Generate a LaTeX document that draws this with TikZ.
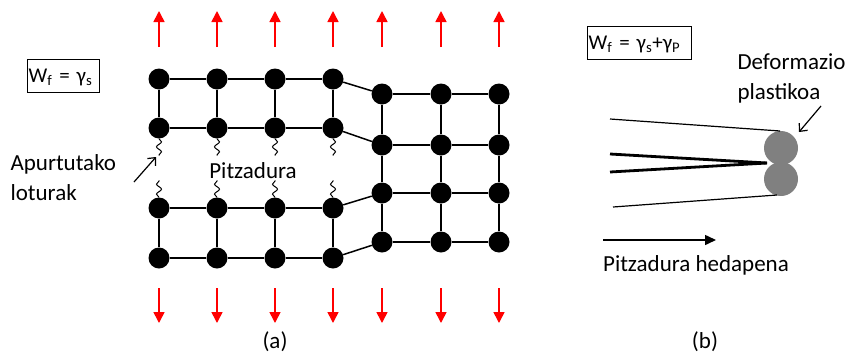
\documentclass[tikz,border=0pt]{standalone}
\usepackage{fontspec}
\setmainfont{Carlito}
\usetikzlibrary{arrows.meta,decorations.pathmorphing}

\begin{document}
\begin{tikzpicture}[x=1pt,y=-1pt,
    font=\fontsize{23}{30}\selectfont,
    atom/.style={circle,fill=black,inner sep=0pt,minimum size=21pt},
    bond/.style={line width=1.5pt},
    pull/.style={red,line width=1.6pt,-{Triangle[length=11pt,width=11pt]}},
    broken/.style={line width=1pt,decorate,decoration={snake,segment length=10pt,amplitude=2.5pt}},
    eqbox/.style={draw,line width=1.2pt,inner sep=1pt,anchor=west,align=left,text depth=0pt,font=\fontsize{21}{24}\selectfont}]
\useasboundingbox (0,0) rectangle (847,354);

% (a)
\foreach \x [count=\i] in {159,217,275,333}{
	\node[atom] (u1-\i) at (\x,79) {};
	\node[atom] (u2-\i) at (\x,128) {};
	\node[atom] (l1-\i) at (\x,208) {};
	\node[atom] (l2-\i) at (\x,258) {};
	\draw[bond] (u1-\i) -- (u2-\i);
	\draw[bond] (l1-\i) -- (l2-\i);
	\draw[broken] (u2-\i.south) -- ++(0,17);
	\draw[broken] (l1-\i.north) -- ++(0,-17);
	\draw[pull] (\x,47) -- (\x,11);
	\draw[pull] (\x,288) -- (\x,323);
}
\foreach \i/\j in {1/2,2/3,3/4}{
	\draw[bond] (u1-\i) -- (u1-\j);
	\draw[bond] (u2-\i) -- (u2-\j);
	\draw[bond] (l1-\i) -- (l1-\j);
	\draw[bond] (l2-\i) -- (l2-\j);
}
\foreach \x [count=\i] in {382,441,499}{
	\foreach \y [count=\j] in {94,145,193,242}
		\node[atom] (r\j-\i) at (\x,\y) {};
	\draw[pull] (\x,47) -- (\x,11);
	\draw[pull] (\x,288) -- (\x,323);
}
\foreach \i in {1,2,3}{
	\draw[bond] (r1-\i) -- (r2-\i) -- (r3-\i) -- (r4-\i);
}
\foreach \j in {1,2,3,4}{
	\draw[bond] (r\j-1) -- (r\j-2) -- (r\j-3);
}
\draw[bond] (u1-4) -- (r1-1);
\draw[bond] (u2-4) -- (r2-1);
\draw[bond] (l1-4) -- (r3-1);
\draw[bond] (l2-4) -- (r4-1);

\node[eqbox,text width=70pt,minimum height=33pt] (wa) at (27,76) {W\textsubscript{f} = γ\textsubscript{s}};
\node[anchor=west,align=left] (apur) at (7,178) {Apurtutako\\loturak};
\coordinate (a1) at (134,182);
\coordinate (a2) at (156,157);
\draw[line width=1.2pt,-{Straight Barb[length=6pt,width=11pt]}] (a1) -- (a2);
\node (crack) at (253,171) {Pitzadura};
\node (capa) at (275,342) {(a)};

% (b)
\node[eqbox,text width=102pt,minimum height=33pt] (wb) at (587,43) {W\textsubscript{f} = γ\textsubscript{s}+γ\textsubscript{P}};
\fill[gray] (781,148) circle (17pt);
\fill[gray] (781,179) circle (17pt);
\draw[line width=1.2pt] (610,119) -- (780,131);
\draw[line width=2.8pt] (610,154) -- (767,163);
\draw[line width=2.8pt] (610,172) -- (767,163);
\draw[line width=1.2pt] (613,207) -- (777,195);
\node[anchor=west,align=left] (plast) at (734,78) {Deformazio\\plastikoa};
\coordinate (b1) at (821,106);
\coordinate (b2) at (799,132);
\draw[line width=1.2pt,-{Straight Barb[length=6pt,width=11pt]}] (b1) -- (b2);
\coordinate (h1) at (603,240);
\coordinate (h2) at (716,240);
\draw[line width=1.5pt,-{Triangle[length=11pt,width=10pt]}] (h1) -- (h2);
\node (hed) at (696,265) {Pitzadura hedapena};
\node (capb) at (705,342) {(b)};
\end{tikzpicture}
\end{document}
